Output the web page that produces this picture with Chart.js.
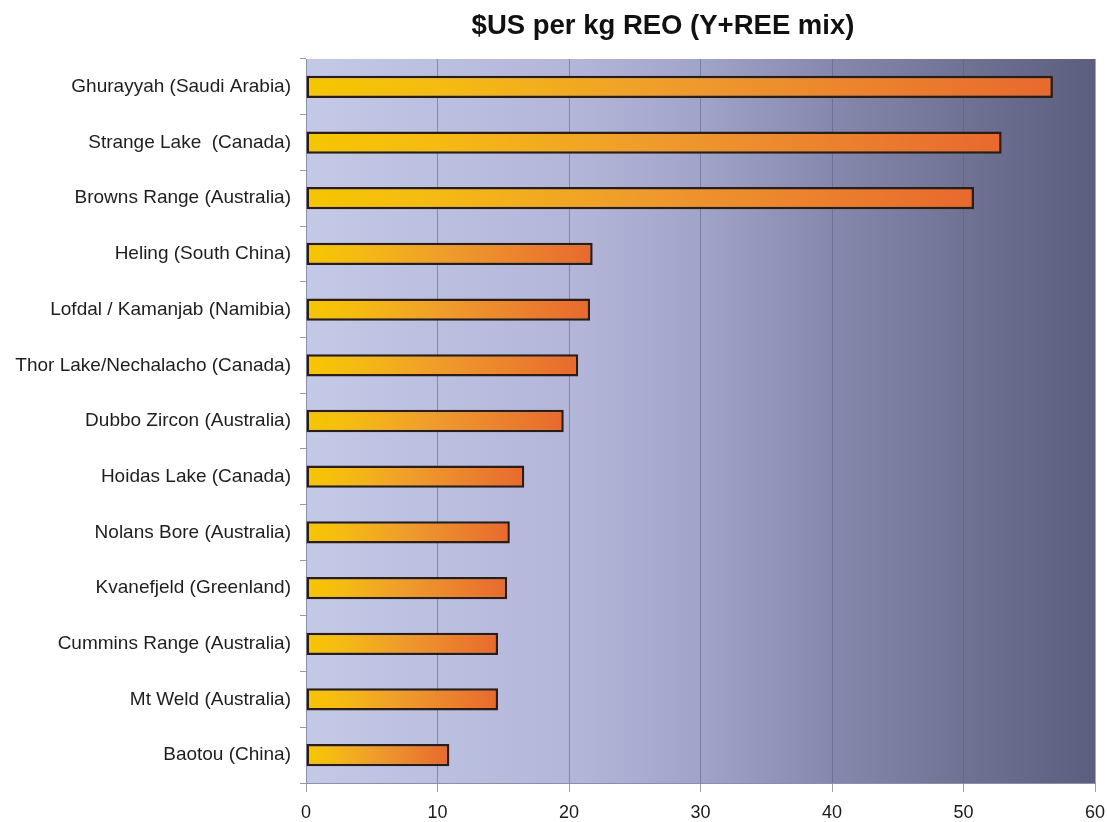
<!DOCTYPE html>
<html>
<head>
<meta charset="utf-8">
<title>$US per kg REO (Y+REE mix)</title>
<script src="https://cdn.jsdelivr.net/npm/chart.js@4/dist/chart.umd.min.js"></script>
<style>
  html, body { margin: 0; padding: 0; background: #ffffff; }
  #wrap { position: relative; width: 1107px; height: 822px; }
</style>
</head>
<body>
<div id="wrap"><canvas id="chart"></canvas></div>
<script>
// Deposits, top to bottom
const deposits = [
  'Ghurayyah (Saudi Arabia)',
  'Strange Lake  (Canada)',
  'Browns Range (Australia)',
  'Heling (South China)',
  'Lofdal / Kamanjab (Namibia)',
  'Thor Lake/Nechalacho (Canada)',
  'Dubbo Zircon (Australia)',
  'Hoidas Lake (Canada)',
  'Nolans Bore (Australia)',
  'Kvanefjeld (Greenland)',
  'Cummins Range (Australia)',
  'Mt Weld (Australia)',
  'Baotou (China)'
];

// Basket value, $US per kg REO
const pricePerKg = [56.8, 52.9, 50.8, 21.8, 21.6, 20.7, 19.6, 16.6, 15.5, 15.3, 14.6, 14.6, 10.9];

// Value axis
const xMin = 0;
const xMax = 60;
const xStep = 10;

const chartTitle = '$US per kg REO (Y+REE mix)';

// Lavender-to-slate shading behind the plot
const plotShading = {
  id: 'plotShading',
  beforeDraw(chart) {
    const { ctx, chartArea: a } = chart;
    if (!a) return;
    const g = ctx.createLinearGradient(a.left, 0, a.right, 0);
    g.addColorStop(0.00, '#c4c9e7');
    g.addColorStop(0.35, '#b2b5d8');
    g.addColorStop(0.50, '#a1a4c9');
    g.addColorStop(0.67, '#8588ac');
    g.addColorStop(0.83, '#707394');
    g.addColorStop(1.00, '#5c5e7e');
    ctx.save();
    ctx.fillStyle = g;
    ctx.fillRect(a.left, a.top, a.right - a.left, a.bottom - a.top);
    ctx.restore();
  }
};

// Heading, placed a little left of the plot centre
const heading = {
  id: 'heading',
  afterDraw(chart) {
    const { ctx } = chart;
    ctx.save();
    ctx.font = 'bold 27.5px "Liberation Sans", Arial, sans-serif';
    ctx.fillStyle = '#111111';
    ctx.textAlign = 'center';
    ctx.textBaseline = 'alphabetic';
    ctx.fillText(chartTitle, 663, 34);
    ctx.restore();
  }
};

// Each bar runs yellow at zero to orange at its end
function barFill(context) {
  const chart = context.chart;
  const xs = chart.scales.x;
  if (!xs || context.type !== 'data') return '#f0a030';
  const v = context.parsed ? context.parsed.x : context.raw;
  const x0 = xs.getPixelForValue(0);
  const x1 = xs.getPixelForValue(v);
  if (!isFinite(x0) || !isFinite(x1) || x1 <= x0) return '#f0a030';
  const g = chart.ctx.createLinearGradient(x0, 0, x1, 0);
  g.addColorStop(0.00, '#f6c600');
  g.addColorStop(0.18, '#f5bb12');
  g.addColorStop(0.50, '#ef9b2c');
  g.addColorStop(1.00, '#e8692e');
  return g;
}

new Chart(document.getElementById('chart'), {
  type: 'bar',
  data: {
    labels: deposits,
    datasets: [{
      data: pricePerKg,
      backgroundColor: barFill,
      borderColor: '#2b1d14',
      borderWidth: 2.5,
      borderSkipped: false,
      barPercentage: 0.4,
      categoryPercentage: 1.0
    }]
  },
  options: {
    indexAxis: 'y',
    responsive: true,
    maintainAspectRatio: false,
    animation: false,
    layout: { padding: { top: 59, right: 12, bottom: 0, left: 0 } },
    plugins: {
      legend: { display: false },
      title: { display: false },
      tooltip: { enabled: false }
    },
    scales: {
      x: {
        min: xMin,
        max: xMax,
        afterFit(scale) {
          scale.height = 39;
          scale.paddingLeft = 0;
          scale.paddingRight = 0;
        },
        ticks: {
          stepSize: xStep,
          color: '#1a1a1a',
          padding: 10,
          font: { family: '"Liberation Sans", Arial, sans-serif', size: 18 }
        },
        grid: {
          color: 'rgba(88, 94, 135, 0.55)',
          lineWidth: 1,
          tickLength: 9,
          tickColor: '#a0a0a8'
        },
        border: { display: true, color: '#8c90a6', width: 1 }
      },
      y: {
        afterFit(scale) { scale.width = 306; },
        ticks: {
          color: '#1e1e1e',
          padding: 9,
          autoSkip: false,
          font: { family: '"Liberation Sans", Arial, sans-serif', size: 19 }
        },
        grid: {
          drawOnChartArea: false,
          offset: true,
          tickLength: 6,
          tickColor: '#9a9aa4'
        },
        border: { display: true, color: '#8c90a6', width: 1 }
      }
    }
  },
  plugins: [plotShading, heading]
});
</script>
</body>
</html>
